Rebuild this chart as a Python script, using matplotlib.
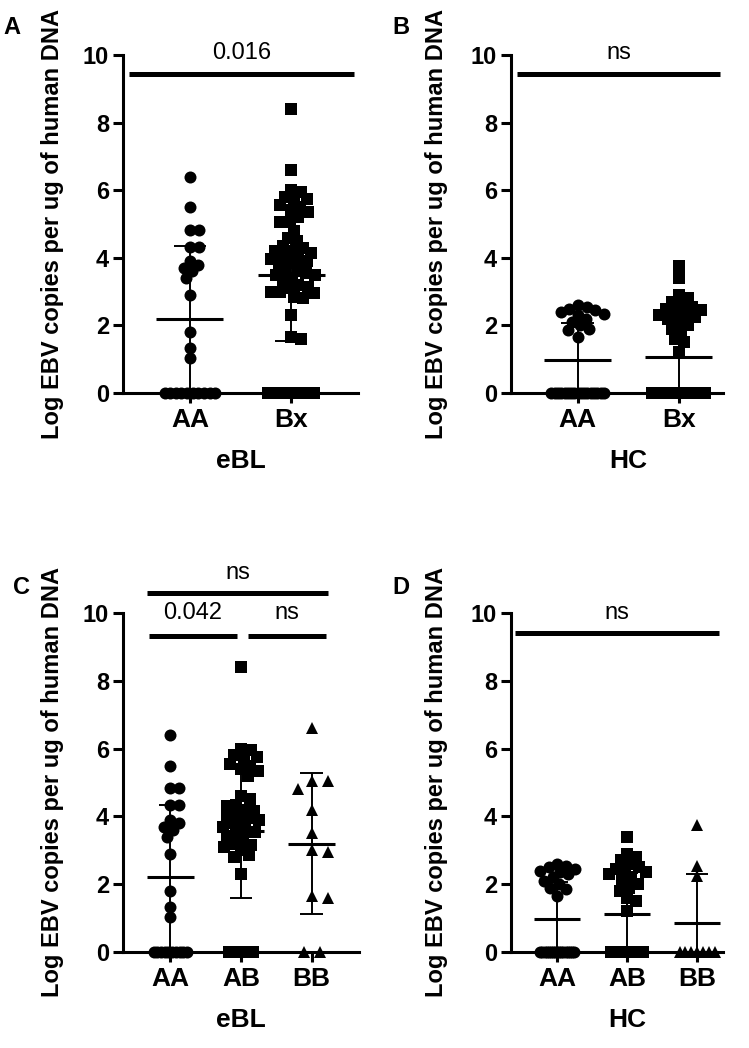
import numpy as np
import matplotlib
matplotlib.use("Agg")
import matplotlib.pyplot as plt

plt.rcParams['font.family'] = ['Liberation Sans', 'DejaVu Sans']

# ---------------- data ----------------
eBL_AA = [6.4, 5.5, 4.83, 4.83, 4.33, 4.33, 3.9, 3.8, 3.7, 3.6, 3.4, 2.9, 1.8, 1.33, 1.03] + [0] * 10
eBL_AB = [8.4, 6.0, 5.95, 5.8, 5.75, 5.7, 5.55, 5.5, 5.4, 5.35, 5.2, 4.6, 4.5, 4.35, 4.3, 4.2,
          4.15, 4.05, 4.0, 3.95, 3.9, 3.85, 3.8, 3.7, 3.6, 3.55, 3.5, 3.4, 3.3, 3.2, 3.15, 3.1,
          3.0, 2.85, 2.8, 2.3] + [0] * 6
eBL_BB = [6.6, 5.05, 5.05, 4.8, 4.2, 3.5, 3.0, 2.95, 1.65, 1.6, 0, 0]
eBL_Bx = eBL_AB + eBL_BB

HC_AA = [2.6, 2.55, 2.5, 2.45, 2.4, 2.35, 2.3, 2.2, 2.1, 2.0, 1.9, 1.85, 1.65] + [0] * 17
HC_AB = [3.4, 2.9, 2.8, 2.7, 2.6, 2.5, 2.45, 2.4, 2.35, 2.3, 2.2, 2.1, 2.0, 1.9, 1.8, 1.6,
         1.5, 1.2] + [0] * 18
HC_BB = [3.75, 2.55, 2.25] + [0] * 7
HC_Bx = HC_AB + HC_BB

# mean and SD shown on the figure
mean_A = [2.20, 3.50]; sd_A = [2.14, 1.95]
mean_B = [0.97, 1.06]; sd_B = [1.10, 1.24]
mean_C = [2.20, 3.57, 3.20]; sd_C = [2.14, 1.97, 2.07]
mean_D = [0.97, 1.11, 0.87]; sd_D = [1.10, 1.21, 1.43]

cats_2 = ['AA', 'Bx']
cats_3 = ['AA', 'AB', 'BB']
ylabel = 'Log EBV copies per ug of human DNA'
yticks = [0, 2, 4, 6, 8, 10]

# ---------------- figure ----------------
W, H = 749, 1048
fig = plt.figure(figsize=(W / 100, H / 100), dpi=100)

def ax_at(l, r, t, b):
    return fig.add_axes([l / W, 1 - b / H, (r - l) / W, (b - t) / H])

axA = ax_at(123, 358, 55, 393)
axB = ax_at(511, 723, 55, 393)
axC = ax_at(123, 359, 613, 952)
axD = ax_at(511, 723, 613, 952)

PPY = 33.8  # px per y unit


def swarm(vals, d, ppx, f, cap, zero_w):
    vals = np.asarray(vals, float)
    offs = np.zeros(len(vals))
    zero_idx = np.where(vals == 0)[0]
    nz = len(zero_idx)
    if nz > 1:
        offs[zero_idx] = np.linspace(-zero_w / 2, zero_w / 2, nz)
    idx = np.where(vals != 0)[0]
    order = idx[np.argsort(-vals[idx], kind='stable')]
    px, py = [], []
    step = 0.5
    capx = cap * ppx
    cands = [0.0]
    k = 1
    while k * step <= capx:
        cands += [k * step, -k * step]
        k += 1
    mind = f * d
    for i in order:
        y = vals[i] * PPY
        chosen = None
        bestd, bestc = -1, 0.0
        for c in cands:
            if px:
                dist = np.min(np.hypot(np.array(px) - c, np.array(py) - y))
            else:
                dist = np.inf
            if dist >= mind:
                chosen = c
                break
            if dist > bestd:
                bestd, bestc = dist, c
        if chosen is None:
            chosen = bestc
        px.append(chosen)
        py.append(y)
        offs[i] = chosen / ppx
    return offs


def draw_panel(ax, groups, cats, means, sds, markers, sizes, ppx, fs, zero_ws, xlim):
    for i, (vals, m, d, f, zw) in enumerate(zip(groups, markers, sizes, fs, zero_ws)):
        offs = swarm(vals, d, ppx, f, 0.27, zw)
        ax.plot(i + offs, vals, linestyle='none', marker=m, markersize=d / 1.389,
                color='black', markeredgewidth=0, zorder=5, clip_on=False)
        mu, sd = means[i], sds[i]
        lo, hi = max(mu - sd, 0), mu + sd
        ax.plot([i, i], [lo, hi], color='black', lw=1.4, zorder=6, solid_capstyle='butt')
        ax.plot([i - 0.33, i + 0.33], [mu, mu], color='black', lw=2.2, zorder=6,
                solid_capstyle='butt')
        for yv in (mu - sd, mu + sd):
            if yv > 0.02:
                ax.plot([i - 0.16, i + 0.16], [yv, yv], color='black', lw=1.4, zorder=6,
                        solid_capstyle='butt')
    ax.set_xlim(*xlim)
    ax.set_ylim(0, 10)
    ax.set_yticks(yticks)
    ax.set_yticklabels([str(t) for t in yticks], fontsize=17, fontweight='bold')
    ax.set_xticks(range(len(cats)))
    ax.set_xticklabels(cats, fontsize=19, fontweight='bold')
    for s in ('top', 'right'):
        ax.spines[s].set_visible(False)
    for s in ('left', 'bottom'):
        ax.spines[s].set_linewidth(2.2)
    ax.tick_params(axis='both', direction='out', length=7, width=2.2, pad=3)
    ax.tick_params(axis='x', pad=4)
    ax.patch.set_alpha(0)


def sig(ax, x0, x1, y, txt, ty):
    ax.plot([x0, x1], [y, y], color='black', lw=3.6, clip_on=False, solid_capstyle='butt')
    ax.text((x0 + x1) / 2, ty, txt, ha='center', va='center', fontsize=17, clip_on=False)


draw_panel(axA, [eBL_AA, eBL_Bx], cats_2, mean_A, sd_A, ['o', 's'], [12, 12.5],
           101, [0.75, 0.75], [0.50, 0.45], (-0.66, 1.66))
draw_panel(axB, [HC_AA, HC_Bx], cats_2, mean_B, sd_B, ['o', 's'], [12, 12.5],
           101, [0.75, 0.75], [0.52, 0.52], (-0.66, 1.44))
draw_panel(axC, [eBL_AA, eBL_AB, eBL_BB], cats_3, mean_C, sd_C, ['o', 's', '^'],
           [12, 12.5, 12], 70.5, [0.75, 0.75, 1.35], [0.47, 0.35, 0.23], (-0.67, 2.67))
draw_panel(axD, [HC_AA, HC_AB, HC_BB], cats_3, mean_D, sd_D, ['o', 's', '^'],
           [12, 12.5, 12], 70.0, [0.75, 0.75, 0.8], [0.48, 0.45, 0.50], (-0.66, 2.37))

sig(axA, -0.6, 1.62, 9.45, '0.016', 10.05)
sig(axB, -0.6, 1.41, 9.45, 'ns', 10.05)
sig(axC, -0.33, 2.23, 10.59, 'ns', 11.18)
sig(axC, -0.30, 0.94, 9.32, '0.042', 10.0)
sig(axC, 1.10, 2.20, 9.32, 'ns', 10.0)
sig(axD, -0.6, 2.31, 9.41, 'ns', 10.0)

for ax, lab, cx in ((axA, 'eBL', 0.5), (axB, 'HC', 0.5), (axC, 'eBL', 1.0), (axD, 'HC', 1.0)):
    ax.set_xlabel(lab, fontsize=19, fontweight='bold', labelpad=14)
    x0, x1 = ax.get_xlim()
    ax.xaxis.set_label_coords((cx - x0) / (x1 - x0), -0.165)

for x, y, t in ((12, 28, 'A'), (401, 28, 'B'), (22, 588, 'C'), (401, 588, 'D')):
    fig.text(x / W, 1 - y / H, t, fontsize=17, fontweight='bold', ha='center', va='center')

for x, y in ((53, 224), (437, 224), (53, 782), (437, 782)):
    fig.text(x / W, 1 - y / H, ylabel, fontsize=17, fontweight='bold', rotation=90,
             ha='center', va='center')

fig.savefig('out.png', dpi=100)
